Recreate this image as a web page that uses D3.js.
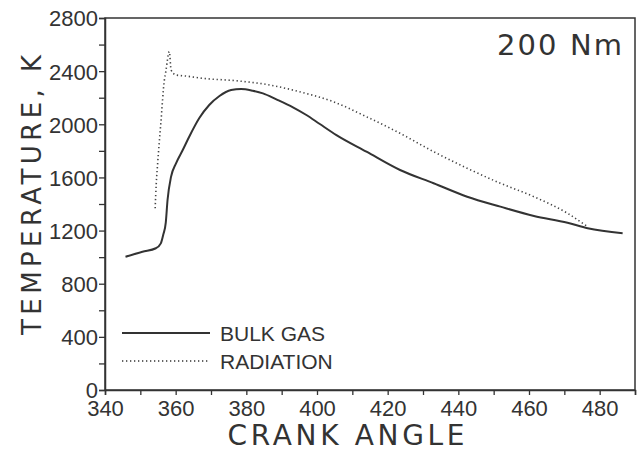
<!DOCTYPE html>
<html>
<head>
<meta charset="utf-8">
<script src="https://cdn.jsdelivr.net/npm/d3@7"></script>
<style>
  body { margin: 0; background: #fff; }
  text { font-family: "Liberation Sans", Arial, sans-serif; fill: #333; }
  .title { font-family: "DejaVu Sans", sans-serif; }
</style>
</head>
<body>
<div class="graph"></div>
<script>
// data
let bulkAngle = [345.8, 350.6, 354.4, 355.8, 356.5, 357.2, 357.7, 358.7, 360.1, 362, 363.9, 366.7, 369.5, 372.4, 375.7, 378.5, 381.8, 384.7, 388.5, 393.2, 397, 400.8, 405.5, 414, 423.5, 433, 442.5, 451.9, 461.4, 470.9, 476.6, 486.5]
let bulkTemp = [1003, 1041, 1067, 1104, 1170, 1260, 1430, 1606, 1706, 1806, 1910, 2047, 2145, 2213, 2258, 2266, 2253, 2233, 2188, 2128, 2070, 2002, 1919, 1794, 1656, 1556, 1455, 1380, 1310, 1259, 1217, 1179]

let radAngle = [354.2, 354.5, 354.9, 355.8, 356.8, 357.2, 358.2, 358.7, 360.1, 362.9, 367.6, 377, 386.6, 395, 404.6, 414, 423.5, 433, 442.5, 451.9, 461.4, 470.9, 476.6]
let radTemp = [1368, 1550, 1706, 2007, 2333, 2396, 2547, 2409, 2371, 2363, 2346, 2328, 2296, 2245, 2170, 2057, 1932, 1794, 1669, 1556, 1455, 1330, 1229]

let xTicks = [340, 360, 380, 400, 420, 440, 460, 480]
let yTicks = [0, 400, 800, 1200, 1600, 2000, 2400, 2800]
let legendLabels = ['BULK GAS', 'RADIATION']

let svgWidth = 643
let svgHeight = 450

let margin = { left: 105, right: 8, top: 18, bottom: 60 }
let width = svgWidth - margin.left - margin.right
let height = svgHeight - margin.top - margin.bottom

let root = d3.select('.graph')
    .append('svg')
    .attr('width', svgWidth)
    .attr('height', svgHeight)

let svg = root.append('g')
    .attr('transform', 'translate(' + margin.left + ',' + margin.top + ')')

let xScale = d3.scaleLinear().domain([340, 490]).range([0, width])
let yScale = d3.scaleLinear().domain([0, 2800]).range([height, 0])

// frame
svg.append('rect')
    .attr('width', width)
    .attr('height', height)
    .attr('fill', 'none')
    .attr('stroke', '#333')
    .attr('stroke-width', 1.5)

// axes
let xAxis = d3.axisBottom(xScale)
    .tickValues(d3.range(340, 491, 10))
    .tickSize(5)
    .tickFormat(d => xTicks.includes(d) ? d : '')

let yAxis = d3.axisLeft(yScale)
    .tickValues(d3.range(0, 2801, 200))
    .tickSize(6)
    .tickFormat(d => yTicks.includes(d) ? d : '')

let gx = svg.append('g')
    .attr('transform', `translate(0,${height})`)
    .call(xAxis)
let gy = svg.append('g').call(yAxis)

;[gx, gy].forEach(g => {
    g.select('.domain').attr('stroke', '#333').attr('stroke-width', 1.5)
    g.selectAll('.tick line').attr('stroke', '#333').attr('stroke-width', 1.3)
    g.selectAll('.tick text')
        .style('font-family', '"Liberation Sans", Arial, sans-serif')
        .style('font-size', '22px')
        .attr('fill', '#333')
})
gx.selectAll('.tick text').attr('dy', '0.9em').attr('y', 6)
gy.selectAll('.tick text').attr('x', -7).attr('dy', '0.36em')

// lines
let valueLine = d3.line()
    .x(d => xScale(d[0]))
    .y(d => yScale(d[1]))
    .curve(d3.curveMonotoneX)

let bulk = bulkAngle.map((a, i) => [a, bulkTemp[i]])
let rad = radAngle.map((a, i) => [a, radTemp[i]])

svg.append('path')
    .attr('d', valueLine(bulk))
    .attr('fill', 'none')
    .attr('stroke', '#333')
    .attr('stroke-width', 2)

svg.append('path')
    .attr('d', valueLine(rad))
    .attr('fill', 'none')
    .attr('stroke', '#444')
    .attr('stroke-width', 1.6)
    .attr('stroke-dasharray', '1.3,2.7')

// legend
legendLabels.forEach((label, i) => {
    let ly = 315 + i * 28
    svg.append('line')
        .attr('x1', 17).attr('x2', 105)
        .attr('y1', ly).attr('y2', ly)
        .attr('stroke', '#333')
        .attr('stroke-width', i == 0 ? 2 : 1.6)
        .attr('stroke-dasharray', i == 0 ? null : '1.3,2.7')
    svg.append('text')
        .attr('x', 115)
        .attr('y', ly + 8)
        .style('font-size', '21px')
        .text(label)
})

// annotation
svg.append('text')
    .attr('class', 'title')
    .attr('x', 517)
    .attr('y', 37)
    .attr('text-anchor', 'end')
    .attr('textLength', 125)
    .attr('lengthAdjust', 'spacing')
    .style('font-size', '29px')
    .text('200 Nm')

// axis titles
root.append('text')
    .attr('class', 'title')
    .attr('x', 346)
    .attr('y', 445)
    .attr('text-anchor', 'middle')
    .attr('textLength', 237)
    .attr('lengthAdjust', 'spacing')
    .style('font-size', '28px')
    .text('CRANK ANGLE')

root.append('text')
    .attr('class', 'title')
    .attr('transform', 'translate(41,195) rotate(-90)')
    .attr('text-anchor', 'middle')
    .attr('textLength', 280)
    .attr('lengthAdjust', 'spacing')
    .style('font-size', '26px')
    .text('TEMPERATURE, K')
</script>
</body>
</html>
